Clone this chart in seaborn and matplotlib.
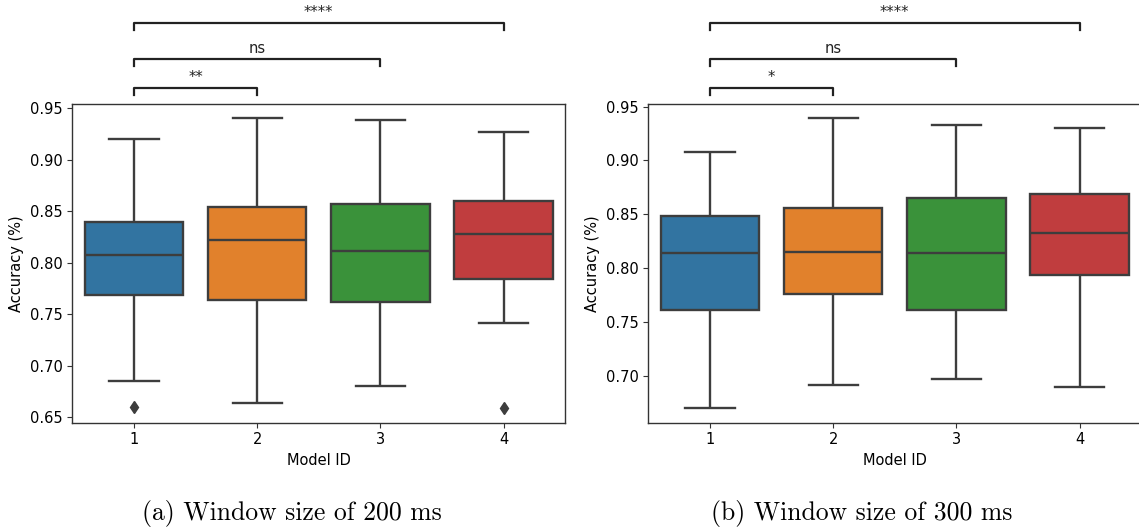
import matplotlib
matplotlib.use("Agg")
import matplotlib.pyplot as plt
import matplotlib.transforms as mtransforms
import seaborn as sns
import pandas as pd

model_ids = [1, 2, 3, 4]

acc_200_m1 = [0.660, 0.685, 0.769, 0.790, 0.808, 0.825, 0.840, 0.880, 0.920]
acc_200_m2 = [0.664, 0.720, 0.764, 0.795, 0.822, 0.840, 0.854, 0.900, 0.940]
acc_200_m3 = [0.681, 0.720, 0.762, 0.790, 0.811, 0.835, 0.857, 0.900, 0.939]
acc_200_m4 = [0.659, 0.742, 0.784, 0.805, 0.828, 0.845, 0.860, 0.895, 0.927]

acc_300_m1 = [0.670, 0.720, 0.761, 0.790, 0.814, 0.830, 0.848, 0.880, 0.908]
acc_300_m2 = [0.692, 0.735, 0.776, 0.795, 0.815, 0.835, 0.856, 0.900, 0.939]
acc_300_m3 = [0.697, 0.730, 0.761, 0.790, 0.814, 0.840, 0.865, 0.900, 0.933]
acc_300_m4 = [0.690, 0.740, 0.794, 0.815, 0.833, 0.850, 0.869, 0.900, 0.930]

# significance annotations: (model a, model b, label)
sig_200 = [(1, 2, "**"), (1, 3, "ns"), (1, 4, "****")]
sig_300 = [(1, 2, "*"), (1, 3, "ns"), (1, 4, "****")]

captions = ["(a) Window size of 200 ms", "(b) Window size of 300 ms"]


def long_frame(groups):
    rows = []
    for mid, vals in zip(model_ids, groups):
        for v in vals:
            rows.append({"Model ID": str(mid), "Accuracy (%)": v})
    return pd.DataFrame(rows)


df_200 = long_frame([acc_200_m1, acc_200_m2, acc_200_m3, acc_200_m4])
df_300 = long_frame([acc_300_m1, acc_300_m2, acc_300_m3, acc_300_m4])

plt.rcParams["font.family"] = ["DejaVu Sans"]
plt.rcParams["font.size"] = 10.5

W, H = 1139, 529
fig = plt.figure(figsize=(W / 100, H / 100), dpi=100)

ax_h = (422.7 - 104) / H
ax_b = (H - 422.7) / H
ax_w = 493 / W
axes = [fig.add_axes([72.3 / W, ax_b, ax_w, ax_h]),
        fig.add_axes([648.3 / W, ax_b, ax_w, ax_h])]

line_c = "#3d3d3d"
for ax, df, sig, cap, cx in zip(axes, [df_200, df_300], [sig_200, sig_300],
                                captions, [292, 862]):
    sns.boxplot(data=df, x="Model ID", y="Accuracy (%)", hue="Model ID",
                palette="tab10", saturation=0.75, legend=False, width=0.8,
                linewidth=1.7, linecolor=line_c, ax=ax,
                flierprops=dict(marker="d", markersize=6,
                                markerfacecolor=line_c, markeredgecolor=line_c))
    ax.set_xlim(-0.5, len(model_ids) - 0.5)
    for sp in ax.spines.values():
        sp.set_color("#333333")
        sp.set_linewidth(1.0)
    ax.tick_params(labelsize=10.5, color="#333333", length=3.5)
    ax.set_xlabel("Model ID", fontsize=10.5)
    ax.set_ylabel("Accuracy (%)", fontsize=10.5)

    trans = mtransforms.blended_transform_factory(ax.transData, ax.transAxes)
    ax_px = ax_h * H
    levels = [16.3, 44.7, 80.7]
    for (a, b, lab), lev in zip(sig, levels):
        xa = model_ids.index(a)
        xb = model_ids.index(b)
        y = 1 + lev / ax_px
        tick = 7 / ax_px
        ax.plot([xa, xa, xb, xb], [y - tick, y, y, y - tick], color="#222222",
                lw=1.6, transform=trans, clip_on=False)
        ax.text((xa + xb) / 2, y + 6 / ax_px, lab, ha="center", va="baseline",
                fontsize=10.5, color="#222222", transform=trans)

    fig.text(cx / W, 9 / H, cap, ha="center", va="baseline",
             fontsize=18.5, family="cmr10")

fig.savefig("out.png", dpi=100)
